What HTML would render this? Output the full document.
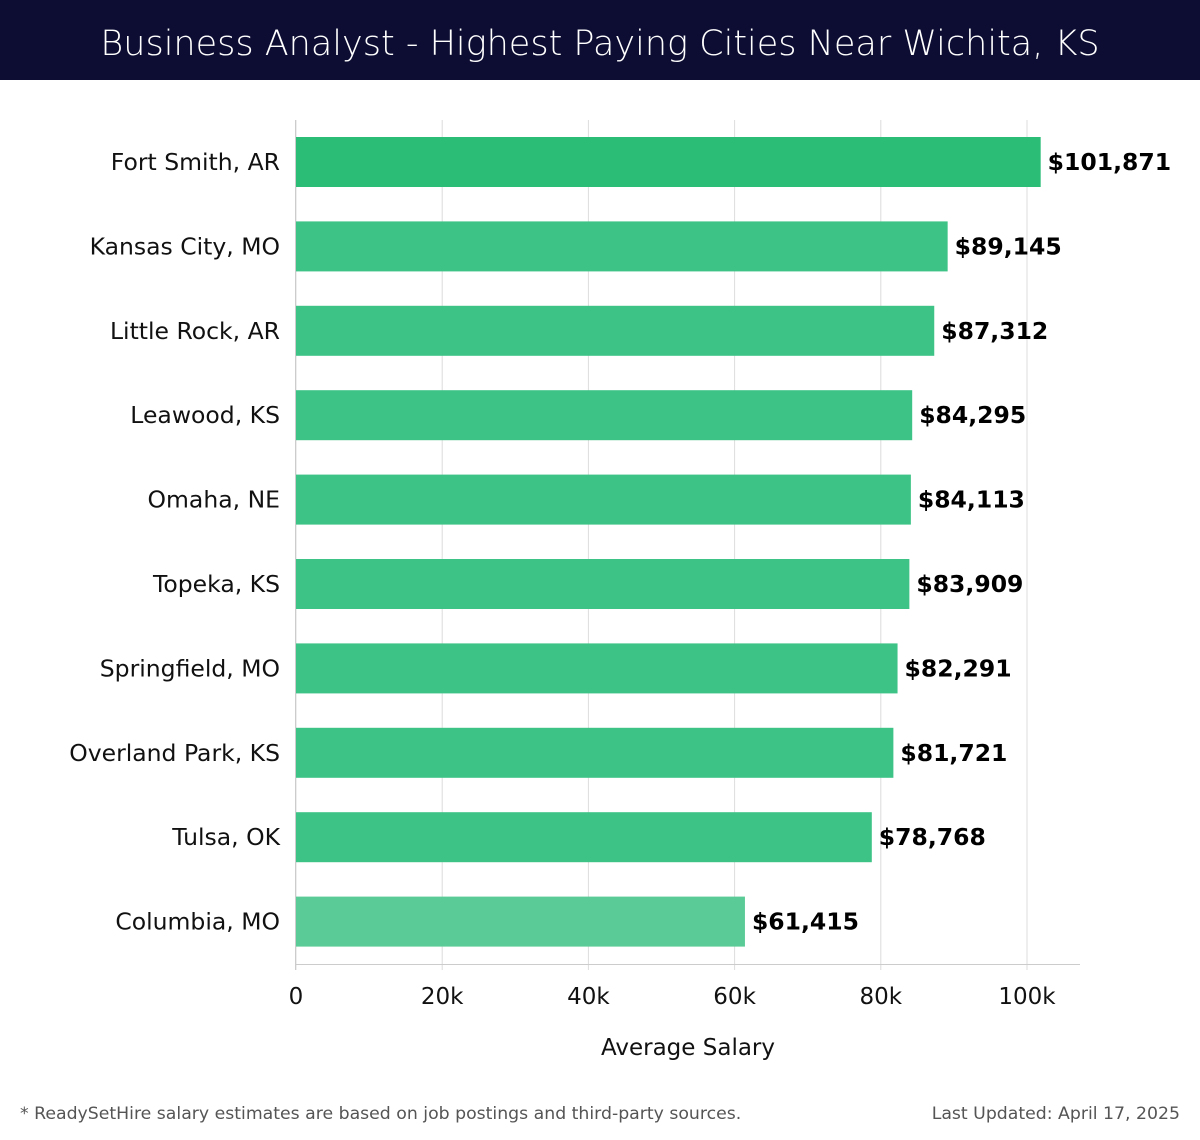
<!DOCTYPE html>
<html><head><meta charset="utf-8"><style>
body{margin:0;width:1200px;height:1140px;background:#fff;font-family:"DejaVu Sans","Liberation Sans",sans-serif;overflow:hidden}
#hdr{position:absolute;left:0;top:0;width:1200px;height:80px;background:#0d0d33;color:#fff;font-size:35px;text-align:center;line-height:88px;font-family:"DejaVu Sans","Liberation Sans",sans-serif;font-weight:300}
</style></head><body>
<div id="hdr">Business Analyst - Highest Paying Cities Near Wichita, KS</div>
<svg id="chart" width="1200" height="1140" style="position:absolute;left:0;top:0"></svg>
<script>
const cities=["Fort Smith, AR","Kansas City, MO","Little Rock, AR","Leawood, KS","Omaha, NE","Topeka, KS","Springfield, MO","Overland Park, KS","Tulsa, OK","Columbia, MO"];
const salaries=[101871,89145,87312,84295,84113,83909,82291,81721,78768,61415];
const labels=["$101,871","$89,145","$87,312","$84,295","$84,113","$83,909","$82,291","$81,721","$78,768","$61,415"];
const ticks=[0,20000,40000,60000,80000,100000];
const tickLabels=["0","20k","40k","60k","80k","100k"];
const NS="http://www.w3.org/2000/svg";
const svg=document.getElementById('chart');
const x=v=>296+v*(1027-296)/100000;
const y=i=>137+i*84.4;
function mk(t,a,p){const e=document.createElementNS(NS,t);for(const k in a)e.setAttribute(k,a[k]);(p||svg).appendChild(e);return e;}
ticks.forEach((t,i)=>{
 const g=mk('line',{x1:x(t),x2:x(t),y1:120,y2:970,stroke:'#dcdcdc','stroke-width':1});
 
 
 const tl=mk('text',{x:x(t),y:1004,'text-anchor':'middle','font-size':23,fill:'#111'});
 tl.textContent=tickLabels[i];
 
 
});
const ax=mk('line',{x1:296,x2:1080,y1:964.5,y2:964.5,stroke:'#ccc','stroke-width':1});


const ay=mk('line',{x1:295.5,x2:295.5,y1:120,y2:970,stroke:'#ccc','stroke-width':1});


salaries.forEach((v,i)=>{
 const col=i===0?'#2bbd76':(i===salaries.length-1?'#5acb96':'#3dc386');
 const r=mk('rect',{x:296,y:y(i),width:x(v)-296,height:50,fill:col});
 
 
 const c=mk('text',{x:280,y:y(i)+33,'text-anchor':'end','font-size':23.5,fill:'#111'});
 c.textContent=cities[i];
 
 
 const l=mk('text',{x:x(v)+7,y:y(i)+33,'font-size':23.5,'font-weight':'bold',fill:'#000'});
 l.textContent=labels[i];
 
 
});
const xt=mk('text',{x:688,y:1055,'text-anchor':'middle','font-size':23,fill:'#111'});
xt.textContent='Average Salary';


const f1=mk('text',{x:20,y:1119,'font-size':17.3,fill:'#555'});
f1.textContent='* ReadySetHire salary estimates are based on job postings and third-party sources.';


const f2=mk('text',{x:1180,y:1119,'text-anchor':'end','font-size':17.3,fill:'#555'});
f2.textContent='Last Updated: April 17, 2025';


</script>
</body></html>
